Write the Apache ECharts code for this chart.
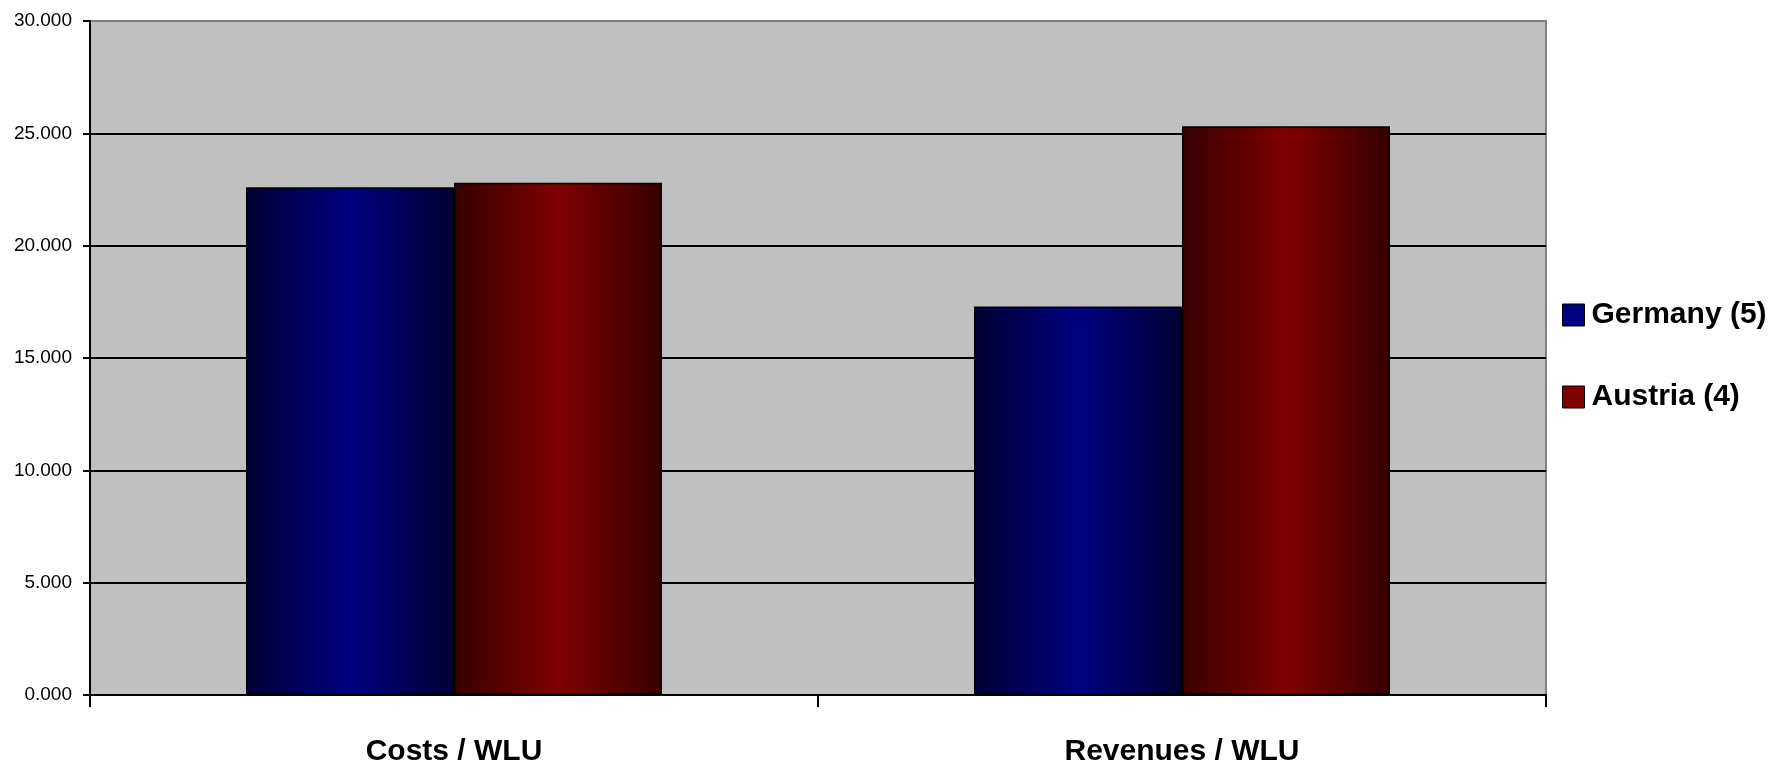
<!DOCTYPE html>
<html>
<head>
<meta charset="utf-8">
<title>Costs and Revenues per WLU</title>
<script src="https://cdn.jsdelivr.net/npm/echarts@6/dist/echarts.min.js"></script>
<style>
  html, body { margin: 0; padding: 0; background: #ffffff; }
  #chart { width: 1780px; height: 767px; }
</style>
</head>
<body>
<div id="chart"></div>
<script>
// Categories and series values (thousands per WLU)
const categories = ['Costs / WLU', 'Revenues / WLU'];
const seriesNames = ['Germany (5)', 'Austria (4)'];
const germanyValues = [22.60, 17.29];
const austriaValues = [22.80, 25.32];
const yTicks = { min: 0, max: 30, interval: 5 };

const sans = "'Liberation Sans', Arial, sans-serif";

// Bars are shaded dark at both sides, brightest in the middle
function sideShade(edge, mid) {
  return new echarts.graphic.LinearGradient(0, 0, 1, 0, [
    { offset: 0, color: edge },
    { offset: 0.5, color: mid },
    { offset: 1, color: edge }
  ]);
}

const chart = echarts.init(document.getElementById('chart'), null, { renderer: 'canvas' });

chart.setOption({
  animation: false,
  backgroundColor: '#ffffff',
  grid: {
    left: 90, right: 234, top: 21, bottom: 71,
    show: true,
    backgroundColor: '#c0c0c0',
    borderColor: '#808080',
    borderWidth: 2
  },
  legend: {
    orient: 'vertical',
    left: 1562,
    top: 300,
    padding: 0,
    itemWidth: 22,
    itemHeight: 22,
    itemGap: 52,
    icon: 'rect',
    textStyle: {
      fontFamily: sans,
      fontWeight: 'bold',
      fontSize: 30,
      lineHeight: 30,
      color: '#000000',
      padding: [0, 0, 0, 2]
    },
    data: [
      { name: seriesNames[0], itemStyle: { color: '#000080', borderColor: '#000000', borderWidth: 1 } },
      { name: seriesNames[1], itemStyle: { color: '#800000', borderColor: '#000000', borderWidth: 1 } }
    ]
  },
  xAxis: {
    type: 'category',
    data: categories,
    boundaryGap: true,
    axisLine: { show: true, lineStyle: { color: '#000000', width: 2 } },
    axisTick: { show: true, length: 12, lineStyle: { color: '#000000', width: 2 } },
    axisLabel: {
      margin: 42,
      fontFamily: sans,
      fontWeight: 'bold',
      fontSize: 30,
      color: '#000000'
    },
    splitLine: { show: false }
  },
  yAxis: {
    type: 'value',
    min: yTicks.min,
    max: yTicks.max,
    interval: yTicks.interval,
    axisLine: { show: true, lineStyle: { color: '#000000', width: 2 } },
    axisTick: { show: true, length: 7, lineStyle: { color: '#000000', width: 2 } },
    axisLabel: {
      margin: 18,
      fontFamily: sans,
      fontSize: 19,
      color: '#000000',
      formatter: v => v.toFixed(3)
    },
    splitLine: {
      show: true,
      showMinLine: false,
      showMaxLine: false,
      lineStyle: { color: '#000000', width: 2 }
    }
  },
  series: [
    {
      name: seriesNames[0],
      type: 'bar',
      data: germanyValues,
      barWidth: '28.57%',
      barGap: '0%',
      itemStyle: {
        color: sideShade('#000033', '#000080'),
        borderColor: '#000000',
        borderWidth: 1.5
      }
    },
    {
      name: seriesNames[1],
      type: 'bar',
      data: austriaValues,
      barWidth: '28.57%',
      barGap: '0%',
      itemStyle: {
        color: sideShade('#350000', '#800000'),
        borderColor: '#000000',
        borderWidth: 1.5
      }
    }
  ]
});
</script>
</body>
</html>
